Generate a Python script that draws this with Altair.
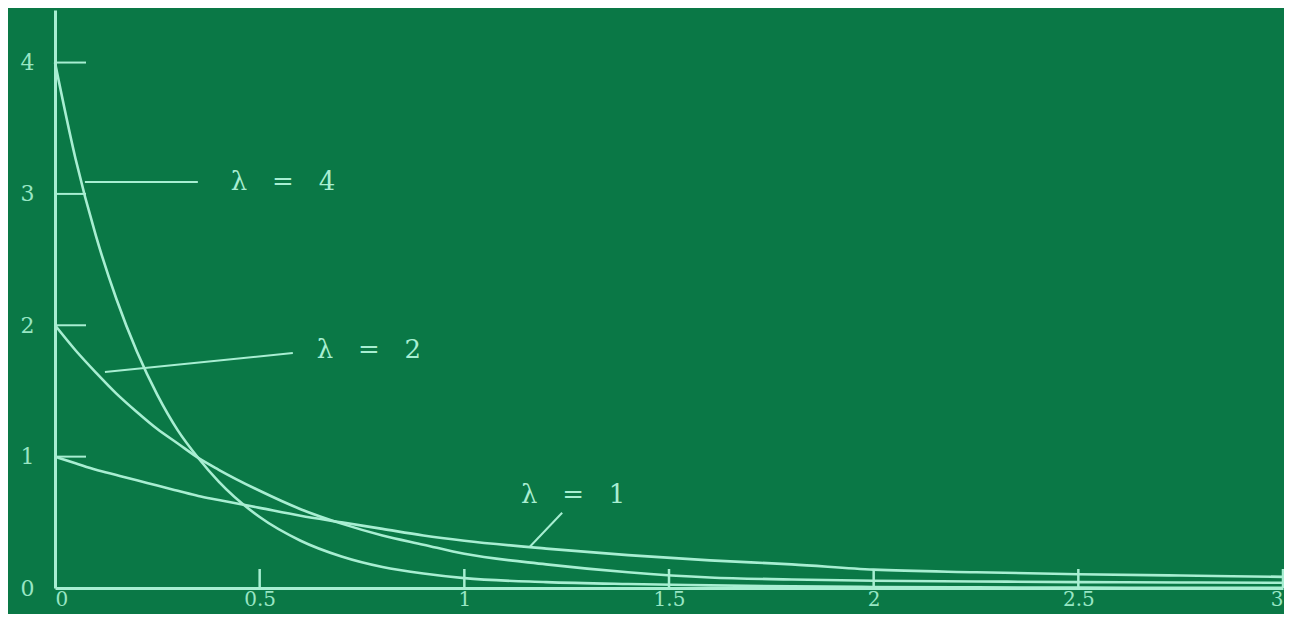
import altair as alt
import pandas as pd

# ---- data ----
x_vals = [0, 0.05, 0.1, 0.15, 0.2, 0.25, 0.3, 0.35, 0.4, 0.5, 0.6, 0.7, 0.8, 0.9,
          1.0, 1.2, 1.4, 1.6, 1.8, 2.0, 2.25, 2.5, 2.75, 3.0]
lam4 = [4.00, 3.27, 2.68, 2.20, 1.80, 1.47, 1.20, 0.99, 0.81, 0.54, 0.36, 0.24, 0.16, 0.11,
        0.075, 0.045, 0.03, 0.02, 0.012, 0.008, 0.005, 0.003, 0.002, 0.001]
lam2 = [2.00, 1.81, 1.64, 1.48, 1.34, 1.21, 1.10, 0.99, 0.90, 0.74, 0.60, 0.49, 0.40, 0.33,
        0.26, 0.18, 0.12, 0.08, 0.065, 0.055, 0.05, 0.045, 0.042, 0.04]
lam1 = [1.00, 0.95, 0.90, 0.86, 0.82, 0.78, 0.74, 0.70, 0.67, 0.61, 0.55, 0.50, 0.45, 0.40,
        0.36, 0.30, 0.25, 0.21, 0.18, 0.14, 0.12, 0.105, 0.095, 0.085]

series_names = ["λ = 4", "λ = 2", "λ = 1"]

x_ticks = [0.5, 1, 1.5, 2, 2.5, 3]
x_labels = [0, 0.5, 1, 1.5, 2, 2.5, 3]
y_ticks = [1, 2, 3, 4]
y_labels = [0, 1, 2, 3, 4]

# annotation leader lines (start on curve -> end near label) and label positions
NB = "\u00a0"
ann_text = [f"λ{NB*3}={NB*3}4", f"λ{NB*3}={NB*3}2", f"λ{NB*3}={NB*3}1"]
ann_x1 = [0.073, 0.122, 1.160]
ann_y1 = [3.09, 1.645, 0.314]
ann_x2 = [0.349, 0.581, 1.239]
ann_y2 = [3.09, 1.789, 0.573]
ann_tx = [0.557, 0.767, 1.266]
ann_ty = [3.09, 1.81, 0.707]

# ---- styling ----
BG = "#0a7846"
CHALK = "#a8eed2"
LABEL = "#98e6c4"
W, H = 1228, 578

rows = []
for name, vals in zip(series_names, [lam4, lam2, lam1]):
    for xv, yv in zip(x_vals, vals):
        rows.append({"series": name, "x": xv, "y": yv})
curves_df = pd.DataFrame(rows)

xs = alt.Scale(domain=[0, 3], nice=False, zero=False)
ys = alt.Scale(domain=[0, 4.4], nice=False)

x_axis = alt.Axis(values=x_labels, format="~g", ticks=False, grid=False, labelFlush=True,
                  labelPadding=1, domainColor=CHALK, domainWidth=3, title=None,
                  labelColor=LABEL, labelFont="DejaVu Serif", labelFontSize=20)
y_axis = alt.Axis(values=y_labels, format="~g", ticks=False, grid=False,
                  labelPadding=21, domainColor=CHALK, domainWidth=3, title=None,
                  labelColor=LABEL, labelFont="DejaVu Serif", labelFontSize=22)

curves = alt.Chart(curves_df).mark_line(
    color=CHALK, strokeWidth=2.6, interpolate="monotone"
).encode(
    x=alt.X("x:Q", scale=xs, axis=x_axis),
    y=alt.Y("y:Q", scale=ys, axis=y_axis),
    detail="series:N",
)

ytick_df = pd.DataFrame({"v": y_ticks})
yticks = alt.Chart(ytick_df).mark_rule(color=CHALK, strokeWidth=2).encode(
    y=alt.Y("v:Q", scale=ys),
    x=alt.value(0),
    x2=alt.value(31),
)

xtick_df = pd.DataFrame({"v": x_ticks})
xticks = alt.Chart(xtick_df).mark_rule(color=CHALK, strokeWidth=2.5).encode(
    x=alt.X("v:Q", scale=xs),
    y=alt.value(H - 19),
    y2=alt.value(H),
)

ann_df = pd.DataFrame({"t": ann_text, "x1": ann_x1, "y1": ann_y1, "x2": ann_x2,
                       "y2": ann_y2, "tx": ann_tx, "ty": ann_ty})
leaders = alt.Chart(ann_df).mark_rule(color=CHALK, strokeWidth=2).encode(
    x=alt.X("x1:Q", scale=xs), y=alt.Y("y1:Q", scale=ys),
    x2="x2:Q", y2="y2:Q",
)
labels = alt.Chart(ann_df).mark_text(
    color=CHALK, font="DejaVu Serif", fontSize=26, align="center", baseline="middle"
).encode(
    x=alt.X("tx:Q", scale=xs), y=alt.Y("ty:Q", scale=ys), text="t:N",
)

chart = alt.layer(curves, yticks, xticks, leaders, labels).properties(
    width=W, height=H,
    autosize=alt.AutoSizeParams(type="none"),
    padding={"left": 47, "top": 2, "right": 1, "bottom": 26},
    background=BG,
).configure_view(stroke=None)

chart.save("out.html", embed_options={"renderer": "svg", "actions": False})
